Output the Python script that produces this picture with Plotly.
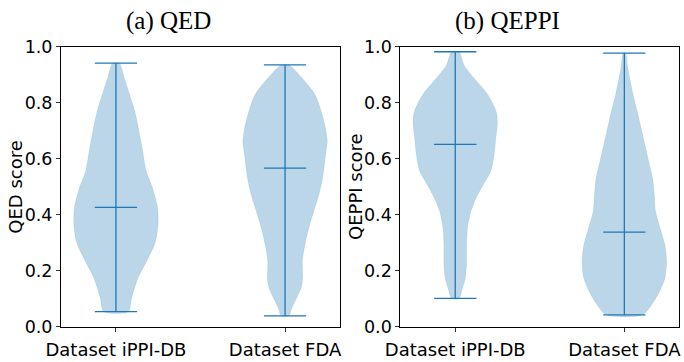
import plotly.graph_objects as go

# ---------------- data ----------------
categories = ["Dataset iPPI-DB", "Dataset FDA"]
positions = [1, 2]

# QED panel: y levels and relative density (1.0 = widest point)
qed_ippi_y = [0.941, 0.887, 0.827, 0.768, 0.649, 0.554, 0.494, 0.430, 0.375, 0.319, 0.292, 0.232, 0.173, 0.137, 0.101, 0.054]
qed_ippi_d = [0.08, 0.20, 0.33, 0.45, 0.61, 0.72, 0.87, 0.98, 1.00, 0.96, 0.91, 0.72, 0.52, 0.44, 0.37, 0.29]
qed_fda_y = [0.935, 0.887, 0.827, 0.768, 0.708, 0.661, 0.613, 0.530, 0.470, 0.411, 0.351, 0.292, 0.232, 0.173, 0.137, 0.101, 0.066, 0.039]
qed_fda_d = [0.09, 0.41, 0.72, 0.86, 0.96, 1.00, 0.96, 0.89, 0.80, 0.68, 0.56, 0.47, 0.41, 0.42, 0.38, 0.27, 0.16, 0.09]

# QEPPI panel
qeppi_ippi_y = [0.982, 0.934, 0.887, 0.827, 0.768, 0.732, 0.673, 0.613, 0.554, 0.506, 0.458, 0.411, 0.351, 0.292, 0.232, 0.173, 0.137, 0.101]
qeppi_ippi_d = [0.09, 0.21, 0.45, 0.78, 0.97, 1.00, 0.96, 0.92, 0.84, 0.66, 0.49, 0.37, 0.29, 0.27, 0.27, 0.24, 0.17, 0.09]
qeppi_fda_y = [0.977, 0.935, 0.887, 0.827, 0.768, 0.708, 0.649, 0.589, 0.530, 0.470, 0.411, 0.351, 0.292, 0.232, 0.173, 0.125, 0.077, 0.042]
qeppi_fda_d = [0.03, 0.07, 0.13, 0.21, 0.31, 0.40, 0.49, 0.58, 0.67, 0.71, 0.74, 0.85, 0.96, 1.00, 0.96, 0.83, 0.64, 0.42]

# summary statistics: min, max, median
qed_min = [0.054, 0.039]
qed_max = [0.941, 0.935]
qed_median = [0.426, 0.566]
qeppi_min = [0.101, 0.042]
qeppi_max = [0.982, 0.977]
qeppi_median = [0.651, 0.338]

titles = ["(a) QED", "(b) QEPPI"]
ylabels = ["QED score", "QEPPI score"]
y_ticks = [0.0, 0.2, 0.4, 0.6, 0.8, 1.0]

# ---------------- styling ----------------
W, H = 684, 362
BLUE = "#1f77b4"
FILL = "rgba(31,119,180,0.3)"
HALF_W = 0.25     # max half-width of violin (matplotlib widths=0.5)
CAP = 0.125       # half-length of caps


def px_x(p):
    return p / W


def px_y(p):
    return 1 - p / H


fig = go.Figure()

panels = [
    ("x", "y", [(qed_ippi_y, qed_ippi_d), (qed_fda_y, qed_fda_d)], qed_min, qed_max, qed_median),
    ("x2", "y2", [(qeppi_ippi_y, qeppi_ippi_d), (qeppi_fda_y, qeppi_fda_d)], qeppi_min, qeppi_max, qeppi_median),
]

for xa, ya, bodies, mins, maxs, meds in panels:
    for pos, (ys, ds) in zip(positions, bodies):
        right = [pos + HALF_W * d for d in ds]
        left = [pos - HALF_W * d for d in ds]
        xs = right[::-1] + left
        yy = ys[::-1] + ys
        fig.add_trace(go.Scatter(
            x=xs + [xs[0]], y=yy + [yy[0]], xaxis=xa, yaxis=ya,
            mode="lines", fill="toself", fillcolor=FILL,
            line=dict(color="rgba(31,119,180,0.15)", width=0.5, shape="spline", smoothing=0.8),
            hoverinfo="skip", showlegend=False))
    for pos, mn, mx, md in zip(positions, mins, maxs, meds):
        fig.add_trace(go.Scatter(x=[pos, pos], y=[mn, mx], xaxis=xa, yaxis=ya, mode="lines",
                                 line=dict(color=BLUE, width=1.3), showlegend=False, hoverinfo="skip"))
        for v in (mn, mx, md):
            fig.add_trace(go.Scatter(x=[pos - CAP, pos + CAP], y=[v, v], xaxis=xa, yaxis=ya, mode="lines",
                                     line=dict(color=BLUE, width=1.3), showlegend=False, hoverinfo="skip"))

axis_common_x = dict(range=[0.675, 2.325], tickvals=positions, ticktext=categories, automargin=False,
                     ticks="outside", ticklen=4, tickcolor="#333", showgrid=False, zeroline=False,
                     showline=True, linecolor="black", linewidth=1, mirror=True, ticklabelstandoff=3,
                     tickfont=dict(family="DejaVu Sans", size=18, color="black"))
axis_common_y = dict(range=[0, 1], tickvals=y_ticks, tickformat=".1f", automargin=False,
                     ticks="outside", ticklen=4, tickcolor="#333", showgrid=False, zeroline=False,
                     showline=True, linecolor="black", linewidth=1, mirror=True,
                     tickfont=dict(family="DejaVu Sans", size=17.5, color="black"))

fig.update_layout(
    width=W, height=H, margin=dict(l=0, r=0, t=0, b=0),
    paper_bgcolor="white", plot_bgcolor="white", showlegend=False,
    xaxis=dict(axis_common_x, domain=[px_x(61), px_x(340)], anchor="y"),
    yaxis=dict(axis_common_y, domain=[px_y(326.7), px_y(46.7)], anchor="x"),
    xaxis2=dict(axis_common_x, domain=[px_x(400.3), px_x(679.3)], anchor="y2"),
    yaxis2=dict(axis_common_y, domain=[px_y(326.7), px_y(46.7)], anchor="x2"),
)

for t, cx in zip(titles, [168, 507]):
    fig.add_annotation(text=t, xref="paper", yref="paper", x=px_x(cx), y=px_y(21),
                       xanchor="center", yanchor="middle", showarrow=False,
                       font=dict(family="Liberation Serif", size=25, color="black"))

for t, cx in zip(ylabels, [16, 355.3]):
    fig.add_annotation(text=t, xref="paper", yref="paper", x=px_x(cx), y=px_y(186.7),
                       xanchor="center", yanchor="middle", showarrow=False, textangle=-90,
                       font=dict(family="DejaVu Sans", size=18, color="black"))

fig.write_html("out.html")
